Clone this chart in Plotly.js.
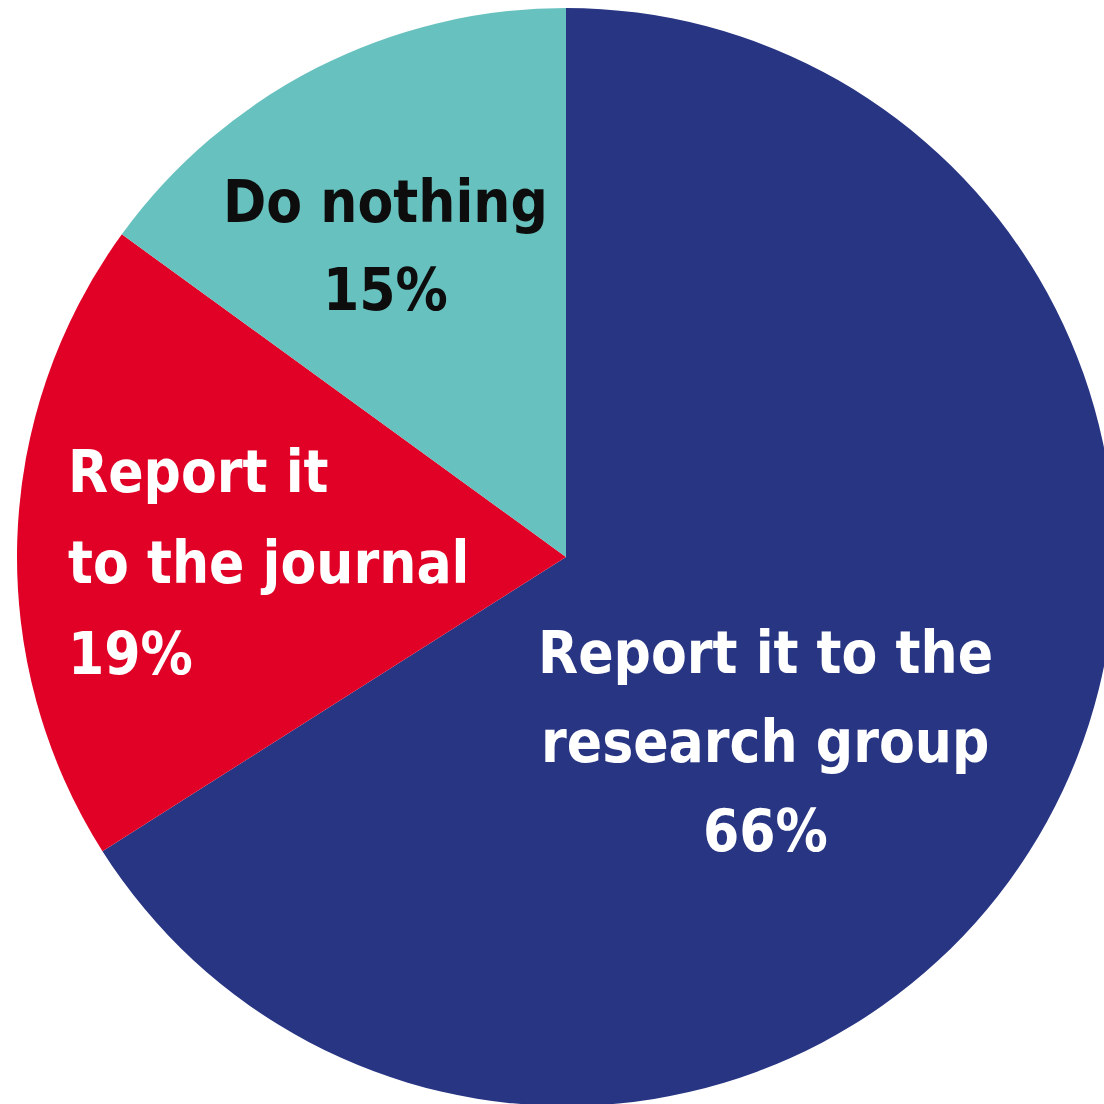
<!DOCTYPE html>
<html>
<head>
<meta charset="utf-8">
<script src="https://cdn.plot.ly/plotly-3.0.1.min.js"></script>
<style>
html,body{margin:0;padding:0;overflow:hidden;background:#fff;}
#chart{width:1120px;height:1114px;}
</style>
</head>
<body>
<div id="chart"></div>
<script>
const categories = ["Report it to the research group", "Report it to the journal", "Do nothing"];
const shares = [66, 19, 15];
const sliceColors = ["#283583", "#e10026", "#67c1be"];
const labelLines = [
  ["Report it to the", "research group"],
  ["Report it", "to the journal"],
  ["Do nothing"]
];
const labelColors = ["#ffffff", "#ffffff", "#0d0d0d"];

const W = 1120, H = 1114;
const px = x => x / W;
const py = y => 1 - y / H;

// label placement (pixel coordinates of each block): x, first-line centre, line step, anchor
const placement = [
  {x: 765, y0: 653, step: 89, anchor: "center"},
  {x: 66,  y0: 472, step: 91, anchor: "left"},
  {x: 385, y0: 202, step: 88, anchor: "center"}
];

const labelFont = {family: "DejaVu Sans Condensed, sans-serif", size: 58, weight: 700};

const annotations = [];
categories.forEach((cat, i) => {
  const lines = labelLines[i].concat([shares[i] + "%"]);
  const p = placement[i];
  lines.forEach((ln, k) => {
    annotations.push({
      text: ln, x: px(p.x), y: py(p.y0 + k * p.step),
      xref: "paper", yref: "paper",
      xanchor: p.anchor, yanchor: "middle", align: p.anchor === "left" ? "left" : "center",
      showarrow: false,
      font: Object.assign({}, labelFont, {color: labelColors[i]})
    });
  });
});

const data = [{
  type: "pie",
  labels: categories,
  values: shares,
  sort: false,
  direction: "clockwise",
  rotation: 0,
  marker: {colors: sliceColors, line: {width: 0}},
  textinfo: "none",
  hoverinfo: "none",
  showlegend: false,
  domain: {x: [17 / W, 1115 / W], y: [8 / H, 1106 / H]}
}];

const layout = {
  width: W, height: H,
  margin: {l: 0, r: 0, t: 0, b: 0},
  paper_bgcolor: "#ffffff",
  showlegend: false,
  annotations: annotations
};

Plotly.newPlot("chart", data, layout, {displayModeBar: false, staticPlot: true});
</script>
</body>
</html>
